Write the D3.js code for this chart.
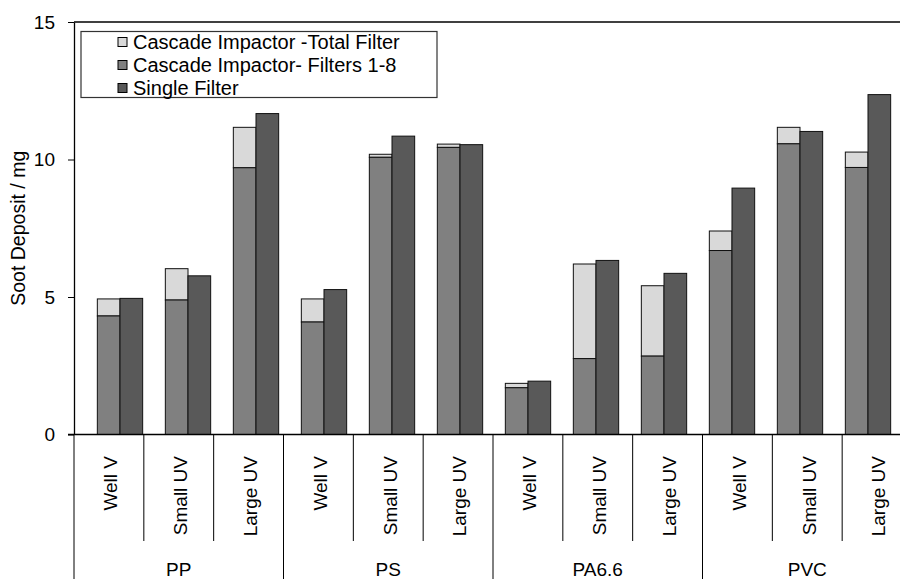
<!DOCTYPE html>
<html>
<head>
<meta charset="utf-8">
<script src="https://cdn.jsdelivr.net/npm/d3@7"></script>
<style>
  body { margin: 0; background: #fff; }
  svg text { font-family: "Liberation Sans", Arial, sans-serif; fill: #000; }
</style>
</head>
<body>
<div id="chart"></div>
<script>
// materials and combustion conditions
var groups = ["PP", "PS", "PA6.6", "PVC"];
var conditions = ["Well V", "Small UV", "Large UV"];

// soot deposit / mg, in order PP(Well V, Small UV, Large UV), PS(...), PA6.6(...), PVC(...)
var totalFilter  = [4.93, 6.03, 11.17, 4.93, 10.19, 10.56, 1.86, 6.20, 5.41, 7.40, 11.17, 10.27];
var filters1to8  = [4.31, 4.89, 9.70, 4.09, 10.08, 10.44, 1.70, 2.76, 2.85, 6.69, 10.57, 9.71];
var singleFilter = [4.95, 5.77, 11.67, 5.27, 10.85, 10.54, 1.94, 6.33, 5.86, 8.96, 11.02, 12.36];

var yTicks = [0, 5, 10, 15];
var legendLabels = ["Cascade Impactor -Total Filter", "Cascade Impactor- Filters 1-8", "Single Filter"];
var colors = ["#d9d9d9", "#808080", "#595959"];

var width = 900, height = 579;
var fontSize = 19;

// one key per bar pair
var keys = [];
groups.forEach(function(g) {
  conditions.forEach(function(c) { keys.push(g + "|" + c); });
});
var data = keys.map(function(k, i) {
  return { key: k, group: k.split("|")[0], cond: k.split("|")[1],
           total: totalFilter[i], filters: filters1to8[i], single: singleFilter[i] };
});

var svg = d3.select("#chart").append("svg")
  .attr("width", width)
  .attr("height", height);

// y scale
var y = d3.scaleLinear().domain([0, 15]).range([434.5, 22]);

// bars and category dividers sit on slightly different spacings (like in excel)
var xBar = d3.scaleBand().domain(keys).range([86, 902]).padding(0);
var xCat = d3.scaleBand().domain(keys).range([74, 912]).padding(0);
var barW = xBar.bandwidth() / 3;

// plot frame top line
svg.append("line")
  .attr("x1", 74).attr("x2", 912)
  .attr("y1", y(15)).attr("y2", y(15))
  .attr("stroke", "#000").attr("stroke-width", 1.3);

// bars
var pair = svg.selectAll(".pair")
  .data(data)
  .enter().append("g")
  .attr("class", "pair")
  .attr("transform", function(d) { return "translate(" + (xBar(d.key) + xBar.bandwidth() / 2 - barW) + ",0)"; });

// cascade: filters 1-8 with the rest of the total filter on top
pair.append("rect")
  .attr("x", 0)
  .attr("width", barW)
  .attr("y", function(d) { return y(d.total); })
  .attr("height", function(d) { return y(d.filters) - y(d.total); })
  .attr("fill", colors[0])
  .attr("stroke", "#111").attr("stroke-width", 1);

pair.append("rect")
  .attr("x", 0)
  .attr("width", barW)
  .attr("y", function(d) { return y(d.filters); })
  .attr("height", function(d) { return y(0) - y(d.filters); })
  .attr("fill", colors[1])
  .attr("stroke", "#111").attr("stroke-width", 1);

pair.append("rect")
  .attr("x", barW)
  .attr("width", barW)
  .attr("y", function(d) { return y(d.single); })
  .attr("height", function(d) { return y(0) - y(d.single); })
  .attr("fill", colors[2])
  .attr("stroke", "#111").attr("stroke-width", 1);

// y axis
var yAxis = svg.append("g")
  .attr("transform", "translate(74,0)")
  .call(d3.axisLeft(y).tickValues(yTicks).tickSize(6).tickSizeOuter(0).tickPadding(13));
yAxis.select(".domain").attr("stroke", "#000").attr("stroke-width", 1.3);
yAxis.selectAll(".tick line").attr("stroke", "#000");
yAxis.selectAll(".tick text")
  .style("font-size", fontSize + "px")
  .attr("fill", "#000");

svg.append("text")
  .attr("transform", "translate(18," + ((y(0) + y(15)) / 2) + ") rotate(-90)")
  .attr("text-anchor", "middle")
  .attr("dominant-baseline", "central")
  .style("font-size", "19.5px")
  .text("Soot Deposit / mg");

// zero line
svg.append("line")
  .attr("x1", 68).attr("x2", 912)
  .attr("y1", y(0)).attr("y2", y(0))
  .attr("stroke", "#000").attr("stroke-width", 1.3);

// category dividers: short ones between conditions, long ones between materials
var edges = keys.map(function(k, i) { return { x: xCat(k), major: i % 3 === 0 }; });
edges.push({ x: xCat.range()[1], major: true });
svg.selectAll(".divider")
  .data(edges)
  .enter().append("line")
  .attr("class", "divider")
  .attr("x1", function(d) { return d.x; })
  .attr("x2", function(d) { return d.x; })
  .attr("y1", y(0))
  .attr("y2", function(d) { return d.major ? height : 541; })
  .attr("stroke", "#000").attr("stroke-width", 1);

// condition labels, rotated
svg.selectAll(".cond")
  .data(data)
  .enter().append("text")
  .attr("class", "cond")
  .attr("transform", function(d) {
    return "translate(" + (xCat(d.key) + xCat.bandwidth() / 2 + 1.5) + ",456) rotate(-90)";
  })
  .attr("text-anchor", "end")
  .attr("dy", "0.36em")
  .style("font-size", fontSize + "px")
  .text(function(d) { return d.cond; });

// material labels
svg.selectAll(".grp")
  .data(groups)
  .enter().append("text")
  .attr("class", "grp")
  .attr("x", function(g) {
    return (xCat(g + "|" + conditions[0]) + xCat(g + "|" + conditions[2]) + xCat.bandwidth()) / 2;
  })
  .attr("y", 576)
  .attr("text-anchor", "middle")
  .style("font-size", fontSize + "px")
  .text(function(g) { return g; });

// legend
var legend = svg.append("g").attr("transform", "translate(81,31.5)");
legend.append("rect")
  .attr("width", 356).attr("height", 66)
  .attr("fill", "#fff")
  .attr("stroke", "#333").attr("stroke-width", 1.2);

var item = legend.selectAll(".legend")
  .data(legendLabels)
  .enter().append("g")
  .attr("class", "legend")
  .attr("transform", function(d, i) { return "translate(37," + (10.5 + i * 23) + ")"; });

item.append("rect")
  .attr("x", 0).attr("y", -4.5)
  .attr("width", 9).attr("height", 9)
  .attr("fill", function(d, i) { return colors[i]; })
  .attr("stroke", "#000").attr("stroke-width", 1);

item.append("text")
  .attr("x", 15)
  .attr("y", 0)
  .attr("dy", "0.36em")
  .style("font-size", "20px")
  .text(function(d) { return d; });
</script>
</body>
</html>
